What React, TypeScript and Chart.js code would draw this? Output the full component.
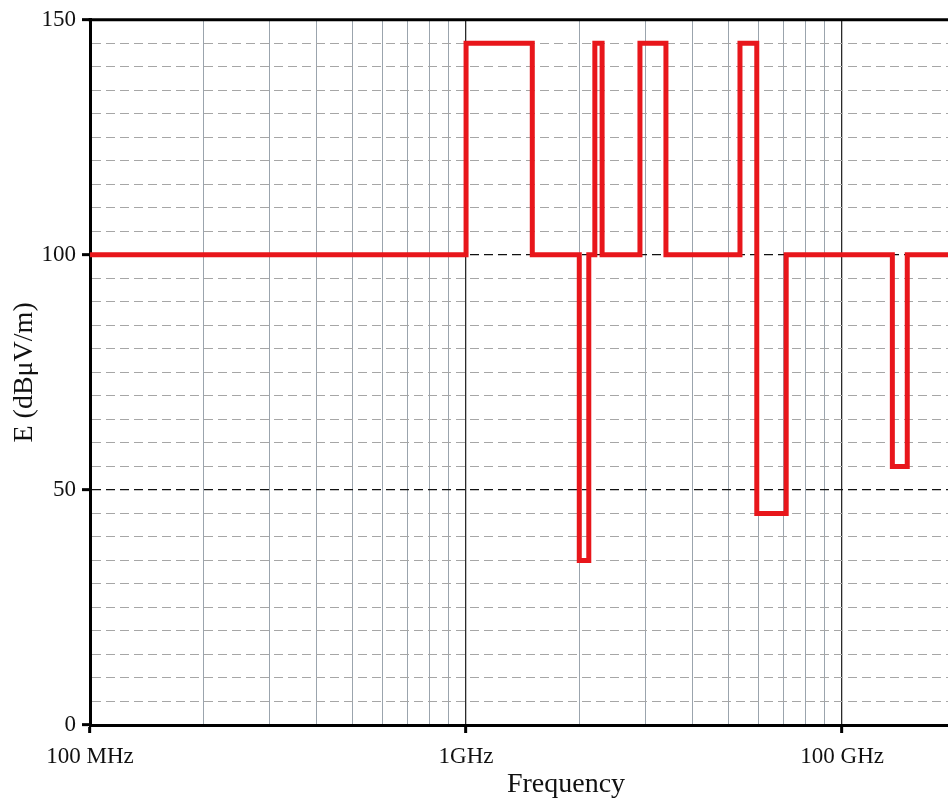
import React, { useEffect, useRef } from 'react';
import { Chart, registerables } from 'chart.js';

Chart.register(...registerables);

// Step data: each value holds from its frequency to the next one (GHz)
const freqGHz = [0.1, 1.0, 1.5, 2.0, 2.12, 2.2, 2.3, 2.9, 3.4, 5.35, 5.93, 7.1, 13.6, 14.9, 34];
const fieldDb = [100, 145, 100, 35, 100, 145, 100, 145, 100, 145, 45, 100, 55, 100, 100];

// Axis ticks
const xGridValues = [
  0.1, 0.2, 0.3, 0.4, 0.5, 0.6, 0.7, 0.8, 0.9,
  1, 2, 3, 4, 5, 6, 7, 8, 9,
  10, 20, 30,
];
const xMajorValues = [0.1, 1, 10];
const xMajorLabels = ['100 MHz', '1GHz', '100 GHz'];
const yGridValues = [
  0, 5, 10, 15, 20, 25, 30, 35, 40, 45, 50, 55, 60, 65, 70, 75,
  80, 85, 90, 95, 100, 105, 110, 115, 120, 125, 130, 135, 140, 145, 150,
];
const yMajorValues = [0, 50, 100, 150];

const xMin = 0.1;
const xMax = 34;

const majorIndex = (v: number) => xMajorValues.findIndex((m) => Math.abs(v - m) / m < 1e-6);
const isYMajor = (v: number) => yMajorValues.some((m) => Math.abs(v - m) < 1e-6);

const SERIF = "'Liberation Serif', 'Times New Roman', serif";

const topBorder = {
  id: 'topBorder',
  afterDatasetsDraw(chart: any) {
    const { ctx, chartArea } = chart;
    ctx.save();
    ctx.strokeStyle = '#000';
    ctx.lineWidth = 3;
    ctx.beginPath();
    ctx.moveTo(chartArea.left - 1.5, chartArea.top);
    ctx.lineTo(chartArea.right, chartArea.top);
    ctx.stroke();
    ctx.restore();
  },
};

export default function App() {
  const ref = useRef<HTMLCanvasElement>(null);

  useEffect(() => {
    if (!ref.current) return;
    const chart = new Chart(ref.current, {
      type: 'line',
      data: {
        datasets: [
          {
            data: freqGHz.map((f, i) => ({ x: f, y: fieldDb[i] })),
            borderColor: '#e8161b',
            borderWidth: 5,
            stepped: 'before',
            pointRadius: 0,
            fill: false,
            borderJoinStyle: 'miter',
            borderCapStyle: 'butt',
          },
        ],
      },
      options: {
        animation: false,
        responsive: true,
        maintainAspectRatio: false,
        layout: { padding: { top: 18, right: 8, left: 0, bottom: 0 } },
        plugins: { legend: { display: false }, tooltip: { enabled: false } },
        scales: {
          x: {
            type: 'logarithmic',
            min: xMin,
            max: xMax,
            afterBuildTicks: (s: any) => {
              s.ticks = xGridValues.map((v) => ({ value: v }));
            },
            afterFit: (s: any) => {
              s.height = 74;
            },
            grid: {
              color: (c: any) => (majorIndex(c.tick?.value ?? 0) >= 0 ? '#2a2a2a' : '#9ba4ad'),
              lineWidth: (c: any) => (majorIndex(c.tick?.value ?? 0) >= 0 ? 1.3 : 1),
              drawTicks: true,
              tickLength: 8,
              tickColor: (c: any) => (majorIndex(c.tick?.value ?? 0) >= 0 ? '#000' : 'rgba(0,0,0,0)'),
              tickWidth: 3,
            },
            border: { display: true, color: '#000', width: 3 },
            ticks: {
              autoSkip: false,
              maxRotation: 0,
              minRotation: 0,
              padding: 10,
              color: '#111',
              font: { family: SERIF, size: 23 },
              callback: (v: any) => {
                const i = majorIndex(Number(v));
                return i >= 0 ? xMajorLabels[i] : '';
              },
            },
            title: {
              display: true,
              text: 'Frequency',
              color: '#111',
              font: { family: SERIF, size: 28, lineHeight: 1 },
              padding: { top: 0, bottom: 0 },
            },
          },
          y: {
            type: 'linear',
            min: 0,
            max: 150,
            afterBuildTicks: (s: any) => {
              s.ticks = yGridValues.map((v) => ({ value: v }));
            },
            afterFit: (s: any) => {
              s.width = 90;
            },
            grid: {
              color: (c: any) => (isYMajor(c.tick?.value ?? 0) ? '#111' : '#a6a6a6'),
              lineWidth: (c: any) => (isYMajor(c.tick?.value ?? 0) ? 1.3 : 1),
              drawTicks: true,
              tickLength: 8,
              tickColor: (c: any) => (isYMajor(c.tick?.value ?? 0) ? '#000' : 'rgba(0,0,0,0)'),
              tickWidth: 3,
            },
            border: { display: true, color: '#000', width: 3, dash: [9, 5] },
            ticks: {
              autoSkip: false,
              padding: 6,
              color: '#111',
              font: { family: SERIF, size: 23 },
              callback: (v: any) => (isYMajor(Number(v)) ? String(v) : ''),
            },
            title: {
              display: true,
              text: 'E (dBμV/m)',
              color: '#111',
              font: { family: SERIF, size: 28, lineHeight: 1.2 },
              padding: { top: 8, bottom: 0 },
            },
          },
        },
      } as any,
      plugins: [topBorder],
    });
    return () => chart.destroy();
  }, []);

  return (
    <div
      style={{
        position: 'absolute',
        left: 0,
        top: 0,
        width: 948,
        height: 799,
        overflow: 'hidden',
        background: '#fff',
      }}
    >
      <div style={{ position: 'relative', width: 1050, height: 799 }}>
        <canvas ref={ref} />
      </div>
    </div>
  );
}
